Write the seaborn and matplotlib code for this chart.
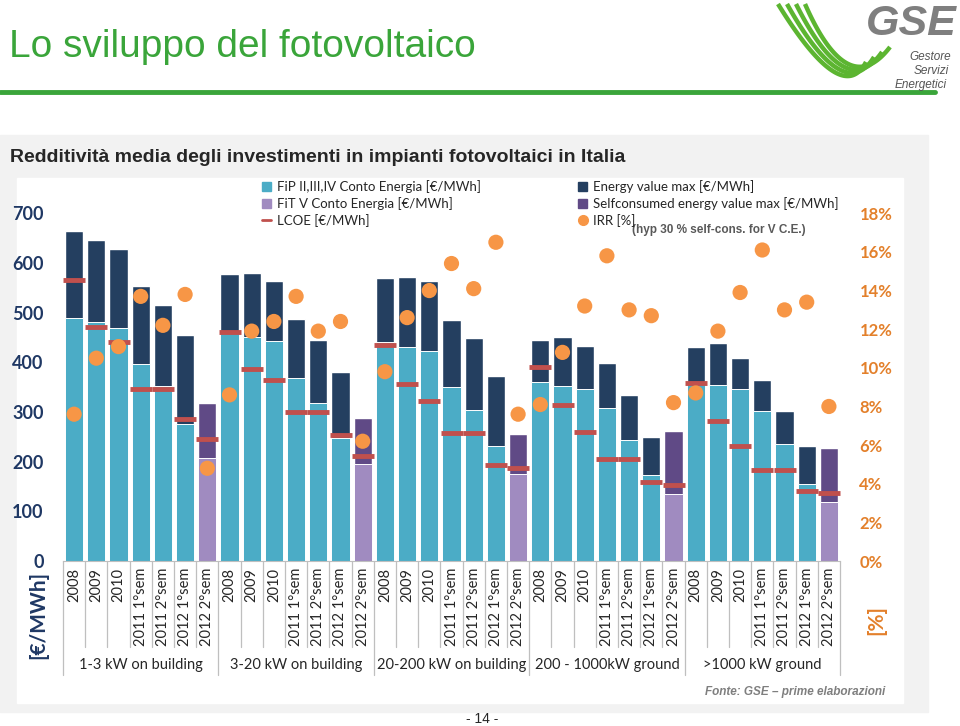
import numpy as np
import pandas as pd
import matplotlib.pyplot as plt
import seaborn as sns
from matplotlib.patches import Patch, Rectangle
from matplotlib.lines import Line2D

# ---- data ----
periods = ['2008', '2009', '2010', '2011 1°sem', '2011 2°sem', '2012 1°sem', '2012 2°sem']
groups = ['1-3 kW on building', '3-20 kW on building', '20-200 kW on building',
          '200 - 1000kW ground', '>1000 kW ground']

# incentive part (FiP for first six periods, FiT V for 2012 2°sem)
incentive = [490, 481, 470, 397, 352, 275, 208,
             463, 451, 443, 369, 319, 247, 196,
             441, 431, 423, 350, 303, 232, 175,
             360, 353, 346, 308, 244, 173, 134,
             358, 354, 346, 301, 235, 156, 119]
# incentive + energy value (top of the stacked bar)
total = [664, 646, 628, 553, 515, 454, 318,
         577, 580, 563, 488, 445, 381, 287,
         569, 571, 564, 485, 448, 372, 256,
         444, 451, 433, 399, 334, 250, 262,
         430, 439, 408, 364, 301, 231, 227]
lcoe = [565, 472, 441, 346, 346, 285, 245,
        462, 386, 364, 300, 300, 254, 211,
        434, 356, 322, 258, 258, 193, 188,
        390, 315, 259, 205, 205, 159, 154,
        358, 282, 231, 183, 183, 141, 136]
irr = [7.6, 10.5, 11.1, 13.7, 12.2, 13.8, 4.8,
       8.6, 11.9, 12.4, 13.7, 11.9, 12.4, 6.2,
       9.8, 12.6, 14.0, 15.4, 14.1, 16.5, 7.6,
       8.1, 10.8, 13.2, 15.8, 13.0, 12.7, 8.2,
       8.7, 11.9, 13.9, 16.1, 13.0, 13.4, 8.0]

n_per = len(periods)
n = n_per * len(groups)
df = pd.DataFrame({
    'key': [f'b{i:02d}' for i in range(n)],
    'period': periods * len(groups),
    'scheme': (['FiP'] * (n_per - 1) + ['FiT']) * len(groups),
    'incentive': incentive,
    'total': total,
    'lcoe': lcoe,
    'irr': np.array(irr) / 100,
})

# ---- colours ----
C_FIP = '#4bacc6'
C_EN = '#243f60'
C_FIT = '#a08bc0'
C_SELF = '#604a86'
C_LCOE = '#c0504d'
C_IRR = '#f79646'
C_NAVY = '#1f3864'
C_ORANGE = '#e3802b'
C_GREEN = '#3aa53a'

sns.set_style('white')
plt.rcParams['font.family'] = ['Lato', 'DejaVu Sans']

W, H = 960, 726
fig = plt.figure(figsize=(9.6, 7.26), dpi=100)

def fx(px):
    return px / W

def fy(py):
    return 1 - py / H

# slide decoration
fig.text(fx(9), fy(47), 'Lo sviluppo del fotovoltaico', fontsize=28, color=C_GREEN,
         family='Liberation Sans', va='center', ha='left')
fig.add_artist(Line2D([0, fx(935)], [fy(92), fy(92)], color=C_GREEN, lw=3.5))

# GSE logo (green swoosh + text)
t = np.linspace(0, 1, 60)
for k in range(4):
    p0 = np.array([778 + 9 * k, 4])
    p1 = np.array([842 + 2 * k, 108 - 2 * k])
    p2 = np.array([866 + 8 * k, 62 - 5 * k])
    pts = ((1 - t) ** 2)[:, None] * p0 + (2 * (1 - t) * t)[:, None] * p1 + (t ** 2)[:, None] * p2
    fig.add_artist(Line2D(fx(pts[:, 0]), fy(pts[:, 1]), color='#5cb531', lw=3.2,
                          solid_capstyle='butt'))
fig.text(fx(957), fy(24), 'GSE', fontsize=31, color='#7f7f7f', style='italic',
         weight='bold', family='Liberation Sans', ha='right', va='center')
for i, w in enumerate(['Gestore', 'Servizi', 'Energetici']):
    fig.text(fx(951 - 2 * i), fy(57 + 14 * i), w, fontsize=8.5,
             color='#555555', style='italic', family='Liberation Sans', ha='right', va='center')

fig.add_artist(Rectangle((0, fy(712)), fx(928), fy(135) - fy(712), color='#f2f2f2', zorder=-5))
fig.add_artist(Rectangle((fx(17), fy(703)), fx(903 - 17), fy(178) - fy(703), color='white', zorder=-4))
fig.text(fx(10), fy(158), 'Redditività media degli investimenti in impianti fotovoltaici in Italia',
         fontsize=14, weight='bold', family='Liberation Sans', va='center', ha='left')
fig.text(fx(482), fy(719), '- 14 -', fontsize=10, family='Liberation Sans', ha='center', va='center')
fig.text(fx(885), fy(692), 'Fonte: GSE \u2013 prime elaborazioni', fontsize=8.5, color='#7f7f7f',
         style='italic', weight='bold', family='Liberation Sans', ha='right', va='center')

# ---- main axes ----
ax = fig.add_axes([fx(63), 1 - 561 / H, fx(840 - 63), (561 - 213.3) / H])
ax.patch.set_alpha(0)

sns.barplot(data=df, x='key', y='total', hue='scheme', palette={'FiP': C_EN, 'FiT': C_SELF},
            dodge=False, width=0.82, saturation=1, errorbar=None, legend=False, ax=ax)
sns.barplot(data=df, x='key', y='incentive', hue='scheme', palette={'FiP': C_FIP, 'FiT': C_FIT},
            dodge=False, width=0.82, saturation=1, errorbar=None, legend=False, ax=ax,
            edgecolor='white', linewidth=0.7)
xpos = np.arange(n)
ax.plot(xpos, df['lcoe'], ls='none', marker='_', ms=16, mew=3.5, color=C_LCOE, zorder=5)

ax.set_xlim(-0.5, n - 0.5)
ax.set_ylim(0, 700)
ax.set_yticks(range(0, 701, 100))
ax.tick_params(axis='y', labelsize=13, labelcolor=C_NAVY, length=0, pad=14)
for lab in ax.get_yticklabels():
    lab.set_fontweight('bold')
ax.set_xticks(xpos)
ax.set_xticklabels(df['period'], rotation=90, fontsize=10.5, color='#262626')
ax.tick_params(axis='x', length=0, pad=5)
ax.set_xlabel('')
ax.set_ylabel('')
for s in ['top', 'right', 'left']:
    ax.spines[s].set_visible(False)
ax.spines['bottom'].set_color('#bfbfbf')

# category table separators and group labels
trans = ax.get_xaxis_transform()
px_ax = (561 - 213.3)
for i in range(n + 1):
    edge = i - 0.5
    depth = 675 if i % n_per == 0 else 647
    ax.plot([edge, edge], [0, -(depth - 561) / px_ax], transform=trans, color='#bfbfbf',
            lw=0.9, clip_on=False)
for g, name in enumerate(groups):
    ax.text(g * n_per + (n_per - 1) / 2, -(665 - 561) / px_ax, name, transform=trans,
            ha='center', va='center', fontsize=10.5, color='#262626')

# IRR on right axis
ax2 = ax.twinx()
sns.scatterplot(x=xpos, y=df['irr'], color=C_IRR, s=120, edgecolor='none', ax=ax2, zorder=6)
ax2.set_ylim(0, 0.18)
ax2.set_yticks(np.arange(0, 0.181, 0.02))
ax2.set_yticklabels([f'{v}%' for v in range(0, 19, 2)])
ax2.tick_params(axis='y', labelsize=12, labelcolor=C_ORANGE, length=0, pad=14)
for lab in ax2.get_yticklabels():
    lab.set_fontweight('bold')
for s in ax2.spines.values():
    s.set_visible(False)
ax2.set_ylabel('')
ax2.set_xlim(-0.5, n - 0.5)

fig.text(fx(38), fy(615), '[€/MWh]', rotation=90, fontsize=15, weight='bold', color=C_NAVY,
         ha='center', va='center')
fig.text(fx(876), fy(620), '[%]', rotation=90, fontsize=15, weight='bold', color=C_ORANGE,
         ha='center', va='center')

# legends
h_left = [Patch(color=C_FIP), Patch(color=C_FIT),
          Line2D([], [], color=C_LCOE, lw=2)]
l_left = ['FiP II,III,IV Conto Energia [€/MWh]', 'FiT V Conto Energia [€/MWh]', 'LCOE [€/MWh]']
h_right = [Patch(color=C_EN), Patch(color=C_SELF),
           Line2D([], [], ls='none', marker='o', color=C_IRR, ms=7)]
l_right = ['Energy value max [€/MWh]', 'Selfconsumed energy value max [€/MWh]', 'IRR [%]']
leg_kw = dict(frameon=False, fontsize=9.5, handlelength=0.7, handleheight=0.7,
              handletextpad=0.4, labelspacing=0.3, borderaxespad=0, borderpad=0)
fig.legend(h_left, l_left, loc='upper left', bbox_to_anchor=(fx(262), fy(180)), **leg_kw)
fig.legend(h_right, l_right, loc='upper left', bbox_to_anchor=(fx(578), fy(180)), **leg_kw)
fig.text(fx(632), fy(230), '(hyp 30 % self-cons. for V C.E.)', fontsize=8.5, weight='bold',
         color='#595959', family='Liberation Sans', ha='left', va='center')

plt.savefig('out.png', dpi=100)
